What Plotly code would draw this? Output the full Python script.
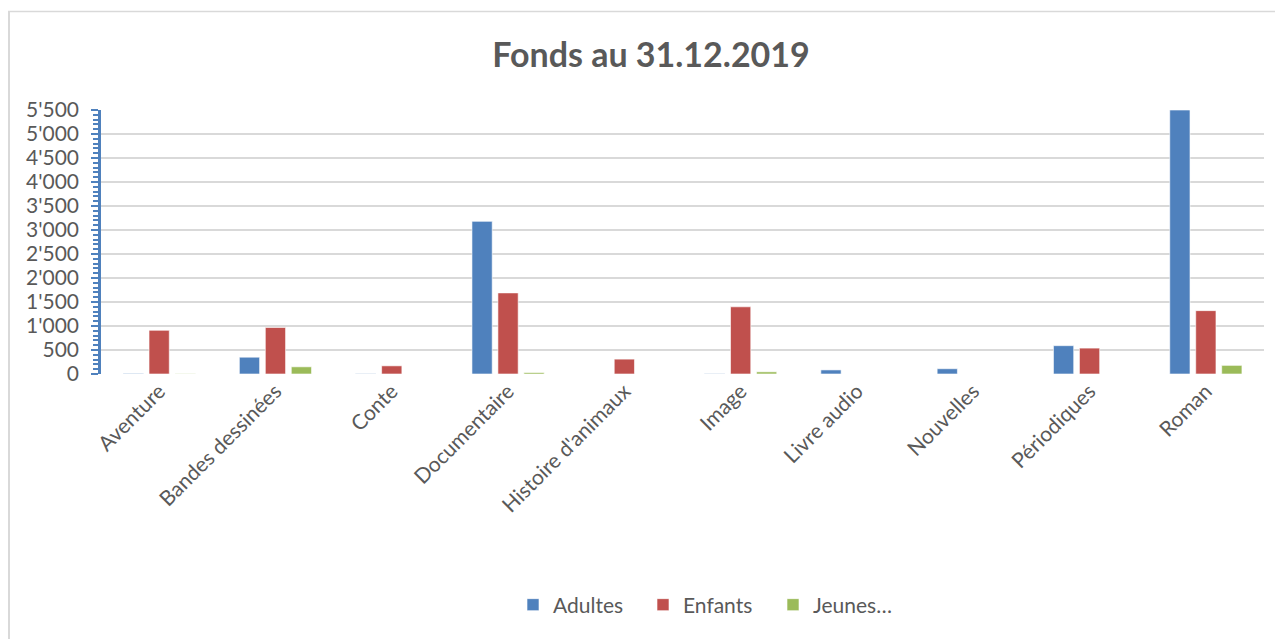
import plotly.graph_objects as go

categories = ["Aventure", "Bandes dessinées", "Conte", "Documentaire", "Histoire d'animaux",
              "Image", "Livre audio", "Nouvelles", "Périodiques", "Roman"]
adultes = [12, 350, 8, 3180, 0, 8, 85, 110, 590, 5500]
enfants = [910, 970, 170, 1690, 310, 1400, 0, 0, 540, 1320]
jeunes = [6, 150, 0, 30, 0, 45, 0, 0, 0, 180]
y_ticks = [0, 500, 1000, 1500, 2000, 2500, 3000, 3500, 4000, 4500, 5000, 5500]

W, H = 1283, 639
OFF = 8  # page body margin
# plot area in screen pixels
SL, SR, ST, SB = 101, 1264, 110, 374
L, T = SL - OFF, ST - OFF
R = W - (SR - OFF)
B = H - (SB - OFF)
pw, ph = W - L - R, H - T - B


def px_x(sx):
    return (sx - OFF - L) / pw


def px_y(sy):
    return (H - B - (sy - OFF)) / ph


fig = go.Figure()
line = dict(color="rgba(255,255,255,0.6)", width=1)
fig.add_bar(name="Adultes", x=categories, y=adultes, marker=dict(color="#4f81bd", line=line))
fig.add_bar(name="Enfants", x=categories, y=enfants, marker=dict(color="#c0504d", line=line))
fig.add_bar(name="Jeunes…", x=categories, y=jeunes, marker=dict(color="#9bbb59", line=line))

fig.update_layout(
    width=W, height=H,
    margin=dict(l=L, r=R, t=T, b=B, autoexpand=False),
    paper_bgcolor="white", plot_bgcolor="white",
    separators=".'",
    barmode="group", bargap=0.33, bargroupgap=0.22,
    font=dict(family="Lato, Carlito, sans-serif", color="#595959"),
    title=dict(text="<b>Fonds au 31.12.2019</b>", x=px_x(651), xanchor="center", xref="paper",
               y=1 - (55 - OFF) / H, yanchor="middle",
               font=dict(size=34, color="#595959", family="Lato, sans-serif")),
    legend=dict(orientation="h", x=px_x(513), xanchor="left", y=px_y(605), yanchor="middle",
                font=dict(size=21, color="#595959"), traceorder="normal",
                entrywidth=85, entrywidthmode="pixels"),
    showlegend=True,
    shapes=[
        dict(type="line", xref="paper", yref="paper", x0=px_x(9), x1=px_x(9), y0=px_y(11), y1=px_y(H + 20),
             line=dict(color="#d9d9d9", width=2), layer="below"),
        dict(type="line", xref="paper", yref="paper", x0=px_x(8), x1=px_x(W + 20), y0=px_y(11.5), y1=px_y(11.5),
             line=dict(color="#d9d9d9", width=1.5), layer="below"),
    ],
)
fig.update_xaxes(showline=False, ticks="", tickangle=-45, tickfont=dict(size=21, color="#595959"),
                 showgrid=False)
fig.update_yaxes(range=[0, 5500], tickvals=y_ticks, tickformat=",d",
                 showgrid=True, gridcolor="#d9d9d9", gridwidth=1.5,
                 showline=True, linecolor="#4f81bd", linewidth=2.5,
                 ticks="outside", ticklen=7, tickwidth=2, tickcolor="#4f81bd",
                 minor=dict(ticks="outside", ticklen=5, tickwidth=1.5, tickcolor="#4f81bd", dtick=100,
                            showgrid=False),
                 tickfont=dict(size=21, color="#595959"), zeroline=False, ticklabelstandoff=8)

fig.write_html("out.html")
